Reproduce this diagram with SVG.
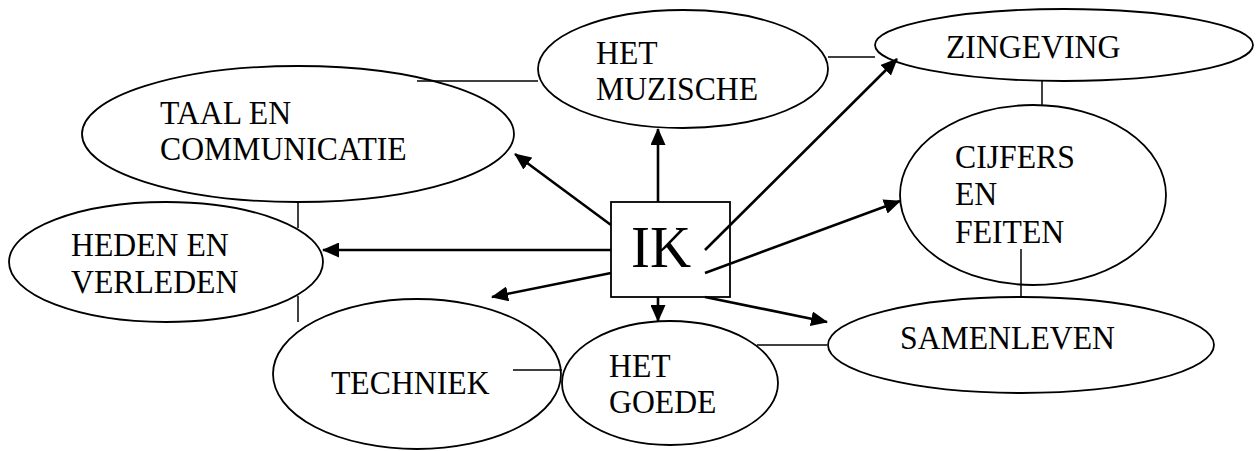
<svg xmlns="http://www.w3.org/2000/svg" width="1256" height="451" viewBox="0 0 1256 451">
<style>
.n ellipse, .n rect { fill: #fff; stroke: #000; stroke-width: 1.8; }
.n text { font-family: "Liberation Serif", "Times New Roman", serif; font-size: 34.5px; fill: #000; }
.c line { stroke: #000; stroke-width: 1.5; }
.c line.a { stroke-width: 2.6; marker-end: url(#ah); }
</style>
<defs>
<marker id="ah" markerUnits="userSpaceOnUse" markerWidth="17" markerHeight="15" refX="16" refY="7.5" orient="auto">
<path d="M0,0 L17,7.5 L0,15 z" fill="#000"/>
</marker>
</defs>
<rect width="1256" height="451" fill="#fff"/>
<g id="taal" class="n"><ellipse cx="298" cy="134" rx="216" ry="68"/><text transform="translate(160,124) scale(0.92 1)">TAAL EN</text><text transform="translate(160,160) scale(0.92 1)">COMMUNICATIE</text></g>
<g id="muzische" class="n"><ellipse cx="683" cy="69" rx="145" ry="59"/><text transform="translate(596,64) scale(0.92 1)">HET</text><text transform="translate(596,100) scale(0.92 1)">MUZISCHE</text></g>
<g id="zingeving" class="n"><ellipse cx="1064" cy="45" rx="189" ry="36"/><text transform="translate(946,58) scale(0.92 1)">ZINGEVING</text></g>
<g id="cijfers" class="n"><ellipse cx="1033" cy="195" rx="133" ry="90"/><text transform="translate(955,168) scale(0.92 1)">CIJFERS</text><text transform="translate(955,205) scale(0.92 1)">EN</text><text transform="translate(955,243) scale(0.92 1)">FEITEN</text></g>
<g id="heden" class="n"><ellipse cx="166" cy="262" rx="157" ry="60"/><text transform="translate(71,256) scale(0.92 1)">HEDEN EN</text><text transform="translate(71,293) scale(0.92 1)">VERLEDEN</text></g>
<g id="techniek" class="n"><ellipse cx="417" cy="374" rx="144" ry="75"/><text transform="translate(331,394) scale(0.92 1)">TECHNIEK</text></g>
<g id="goede" class="n"><ellipse cx="670" cy="383" rx="108" ry="62"/><text transform="translate(609,377) scale(0.92 1)">HET</text><text transform="translate(609,413) scale(0.92 1)">GOEDE</text></g>
<g id="samenleven" class="n"><ellipse cx="1021" cy="345" rx="193" ry="48"/><text transform="translate(900,349) scale(0.92 1)">SAMENLEVEN</text></g>
<g id="ik" class="n"><rect x="611" y="202" width="119" height="95"/><text transform="translate(631,267) scale(0.95 1)" style="font-size:60px">IK</text></g>
<g id="connectors" class="c">
<line x1="417" y1="81" x2="538" y2="81"/>
<line x1="828" y1="57" x2="875" y2="57"/>
<line x1="1042" y1="81" x2="1042" y2="105"/>
<line x1="1021" y1="249" x2="1021" y2="298"/>
<line x1="757" y1="345" x2="827" y2="345"/>
<line x1="513" y1="370" x2="562" y2="370"/>
<line x1="298" y1="202" x2="298" y2="228"/>
<line x1="298" y1="296" x2="298" y2="322"/>
<line class="a" x1="658" y1="202" x2="658" y2="129"/>
<line class="a" x1="611" y1="225" x2="515" y2="154"/>
<line class="a" x1="611" y1="250" x2="323" y2="250"/>
<line class="a" x1="611" y1="273" x2="492" y2="297"/>
<line class="a" x1="658" y1="297" x2="658" y2="321"/>
<line class="a" x1="705" y1="297" x2="827" y2="322"/>
<line class="a" x1="705" y1="273" x2="900" y2="201"/>
<line class="a" x1="705" y1="250" x2="897" y2="59"/>
</g>
</svg>
